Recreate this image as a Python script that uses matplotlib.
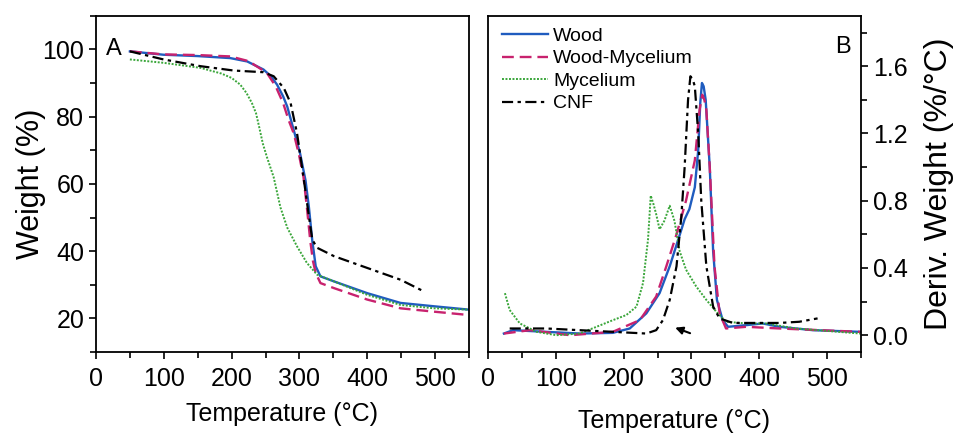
import matplotlib
matplotlib.use("Agg")
import matplotlib.pyplot as plt
from matplotlib.ticker import MultipleLocator

plt.rcParams["font.family"] = ["Liberation Sans", "DejaVu Sans"]

# ---- TGA (weight %) ----
wood_t = [50, 99.5, 150, 198, 223, 247, 258, 267, 276, 282, 291.6, 301, 309, 314, 319, 324, 331, 351, 400, 449, 498.5, 550]
wood_w = [99.4, 98.4, 98.0, 97.4, 96.4, 94.0, 92.0, 89.5, 86.0, 83.0, 76.0, 69.0, 61.0, 53.0, 43.0, 35.5, 32.5, 31.0, 27.5, 24.6, 23.6, 22.6]

woodmyc_t = [50, 99.5, 150, 198, 225, 252, 265, 276, 284, 291.6, 299, 306, 311, 316, 320, 324, 331, 351, 400, 449, 498.5, 550]
woodmyc_w = [99.4, 98.5, 98.3, 97.9, 96.5, 93.0, 89.0, 84.0, 79.0, 75.0, 69.0, 62.0, 53.0, 43.0, 37.0, 33.5, 30.5, 29.0, 25.6, 23.0, 22.0, 21.0]

myc_t = [50, 99.5, 154, 185, 200, 212.8, 222, 230, 236, 240, 246, 252, 262, 272, 282, 296.5, 311, 326, 351, 400, 449, 498.5, 550]
myc_w = [97.0, 96.0, 94.5, 92.8, 91.5, 89.5, 87.0, 84.0, 81.0, 77.5, 72.0, 68.0, 62.0, 53.0, 47.0, 41.4, 36.5, 33.0, 31.0, 27.0, 24.0, 23.0, 22.6]

cnf_t = [50, 99.5, 154, 203, 247, 262, 277, 287, 296.5, 306, 314, 319, 326, 351, 400, 449, 483.7]
cnf_w = [99.4, 97.0, 95.0, 93.7, 93.2, 92.0, 88.5, 84.0, 75.0, 62.0, 50.3, 43.4, 41.0, 38.5, 35.0, 31.5, 28.0]

# ---- DTG (deriv. weight %/°C) ----
wood_dt = [23.5, 37, 86, 135, 184, 209, 233.5, 253, 268, 283, 290, 297, 305, 310, 313, 315.5, 318, 321, 327, 332, 337.6, 346, 354, 381, 405, 430, 479, 549]
wood_dd = [0.01, 0.03, 0.02, 0.01, 0.014, 0.04, 0.13, 0.25, 0.41, 0.60, 0.69, 0.75, 0.88, 1.10, 1.38, 1.50, 1.48, 1.40, 1.00, 0.50, 0.21, 0.09, 0.05, 0.06, 0.07, 0.05, 0.03, 0.02]

woodmyc_dt = [23.5, 62, 121, 184, 224, 248, 263, 278, 292, 305, 312, 316, 319, 322, 327, 334, 341.5, 351, 381, 430, 549]
woodmyc_dd = [0.01, 0.03, 0.0, 0.02, 0.09, 0.23, 0.41, 0.60, 0.80, 1.04, 1.34, 1.43, 1.40, 1.34, 1.00, 0.41, 0.13, 0.04, 0.05, 0.04, 0.02]

myc_dt = [25, 32, 47, 71.6, 101, 135, 160, 184.5, 204, 219, 228.6, 236, 240, 244, 248, 253, 260, 268, 275, 282.6, 292, 307, 322, 336.6, 351, 381, 410, 454, 549]
myc_dd = [0.25, 0.15, 0.07, 0.02, 0.0, 0.01, 0.05, 0.09, 0.12, 0.17, 0.31, 0.57, 0.83, 0.78, 0.72, 0.63, 0.68, 0.77, 0.68, 0.50, 0.39, 0.29, 0.21, 0.14, 0.08, 0.07, 0.07, 0.04, 0.01]

cnf_dt = [32, 86, 135, 184.5, 233.5, 248, 258, 268, 278, 285, 290, 295, 298.5, 302, 305, 310, 314.5, 322, 332, 341.5, 361, 430, 459, 486]
cnf_dd = [0.04, 0.04, 0.03, 0.02, 0.01, 0.03, 0.09, 0.21, 0.41, 0.70, 1.00, 1.40, 1.54, 1.52, 1.48, 1.20, 0.80, 0.41, 0.17, 0.10, 0.073, 0.073, 0.08, 0.10]

BLUE = "#1f5cbf"
MAGENTA = "#c8226e"
GREEN = "#3aa63a"

styles = {
    "Wood": dict(color=BLUE, lw=1.7, linestyle="-"),
    "Wood-Mycelium": dict(color=MAGENTA, lw=1.7, linestyle=(0, (5, 2.5))),
    "Mycelium": dict(color=GREEN, lw=1.4, linestyle=(0, (1, 0.8))),
    "CNF": dict(color="black", lw=1.6, linestyle=(0, (5, 2, 1.5, 2))),
}

fig = plt.figure(figsize=(9.54, 4.33), dpi=100)
ax1 = fig.add_axes([0.1006, 0.187, 0.391, 0.7767])
ax2 = fig.add_axes([0.5115, 0.187, 0.391, 0.7767])

ax1.plot(wood_t, wood_w, **styles["Wood"])
ax1.plot(woodmyc_t, woodmyc_w, **styles["Wood-Mycelium"])
ax1.plot(myc_t, myc_w, **styles["Mycelium"])
ax1.plot(cnf_t, cnf_w, **styles["CNF"])

ax2.plot(wood_dt, wood_dd, label="Wood", **styles["Wood"])
ax2.plot(woodmyc_dt, woodmyc_dd, label="Wood-Mycelium", **styles["Wood-Mycelium"])
ax2.plot(myc_dt, myc_dd, label="Mycelium", **styles["Mycelium"])
ax2.plot(cnf_dt, cnf_dd, label="CNF", **styles["CNF"])

ax2.annotate("", xy=(276, 0.045), xytext=(298, 0.012),
             arrowprops=dict(arrowstyle="-|>", color="black", lw=1.5,
                             mutation_scale=11, shrinkA=0, shrinkB=0))

for ax in (ax1, ax2):
    ax.set_xlim(0, 550)
    ax.xaxis.set_major_locator(MultipleLocator(100))
    ax.xaxis.set_minor_locator(MultipleLocator(50))
    for sp in ax.spines.values():
        sp.set_linewidth(1.3)
    ax.tick_params(which="major", direction="out", length=5, width=1.2, labelsize=18)
    ax.tick_params(which="minor", direction="out", length=4, width=1.2)
    ax.tick_params(axis="x", pad=6)

ax1.set_ylim(10, 110)
ax1.yaxis.set_major_locator(MultipleLocator(20))
ax1.yaxis.set_minor_locator(MultipleLocator(10))
ax1.set_ylabel("Weight (%)", fontsize=22, labelpad=-3)
ax1.set_xlabel("Temperature (°C)", fontsize=18, labelpad=8)
ax1.text(26, 100, "A", fontsize=17, ha="center", va="center")

ax2.set_ylim(-0.1, 1.9)
ax2.yaxis.set_major_locator(MultipleLocator(0.4))
ax2.yaxis.set_minor_locator(MultipleLocator(0.2))
ax2.yaxis.set_major_formatter(plt.FormatStrFormatter("%.1f"))
ax2.yaxis.tick_right()
ax2.yaxis.set_label_position("right")
ax2.tick_params(axis="y", which="both", left=False, right=True)
ax2.set_ylabel("Deriv. Weight (%/°C)", fontsize=23, labelpad=12)
ax2.set_xlabel("Temperature (°C)", fontsize=18, labelpad=13)
ax2.text(523, 1.715, "B", fontsize=17, ha="center", va="center")

ax2.legend(loc="upper left", frameon=False, fontsize=14, handlelength=2.4,
           handletextpad=0.25, labelspacing=0.25, borderaxespad=0.2,
           bbox_to_anchor=(0.005, 1.0))

fig.savefig("out.png", dpi=100)
